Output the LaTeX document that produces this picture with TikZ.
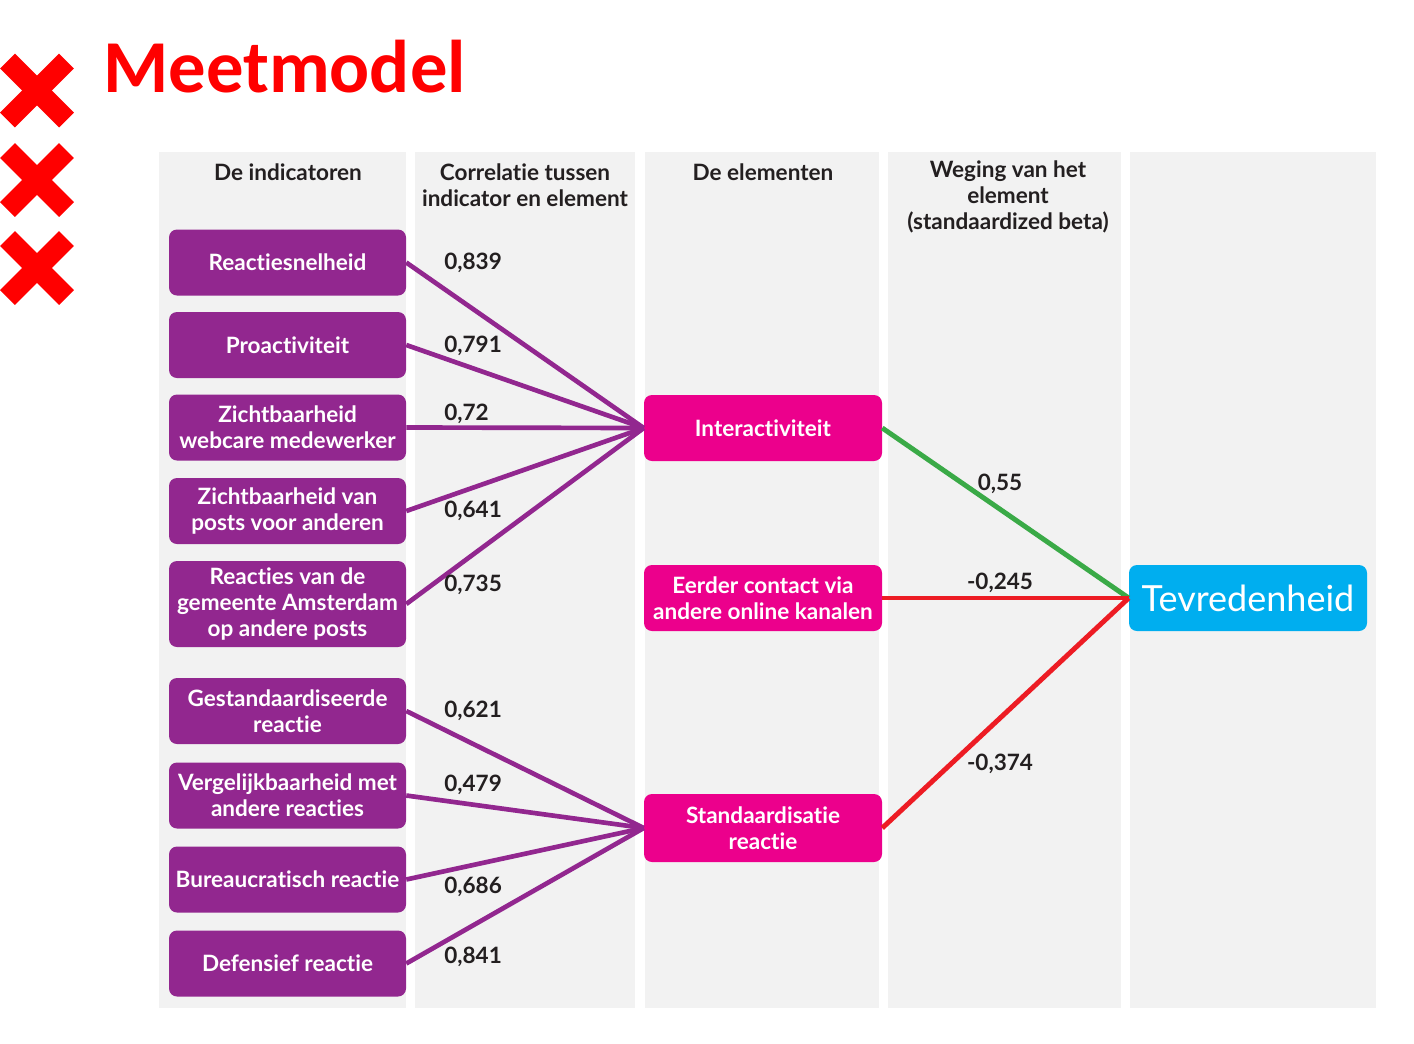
\documentclass[tikz,border=0pt]{standalone}
\usepackage{fontspec}
\setmainfont{Lato}[Ligatures=NoCommon]
\newfontfamily\titlefont{Carlito}
\definecolor{colbg}{HTML}{F2F2F2}
\definecolor{indpurple}{HTML}{92278F}
\definecolor{elpink}{HTML}{EC008C}
\definecolor{tevblue}{HTML}{00AEEF}
\definecolor{xred}{HTML}{FF0000}
\definecolor{lred}{HTML}{ED1C24}
\definecolor{lgreen}{HTML}{3AAA47}
\definecolor{darktext}{HTML}{231F20}
\tikzset{
  colbox/.style={fill=colbg, draw=none},
  xmark/.style={xred, line width=15.75pt, line cap=butt},
  basefont/.style={font=\bfseries\fontsize{16.9}{19.6}\selectfont},
  header/.style={basefont, text=darktext, align=center, inner sep=0pt},
  indbox/.style={basefont, fill=indpurple, text=white, rounded corners=6pt,
    minimum width=177.75pt, minimum height=49.5pt, align=center, inner sep=0pt},
  elbox/.style={basefont, fill=elpink, text=white, rounded corners=6pt,
    minimum width=178.5pt, minimum height=49.5pt, align=center, inner sep=0pt},
  tevbox/.style={font=\fontsize{27}{30}\selectfont, fill=tevblue, text=white, rounded corners=6pt,
    minimum width=178.5pt, minimum height=49.5pt, align=center, inner sep=0pt},
  numlabel/.style={basefont, text=darktext, inner sep=0pt},
  pline/.style={indpurple, line width=3.5pt},
  gline/.style={lgreen, line width=3.7pt},
  rline/.style={lred, line width=3.7pt}
}
\begin{document}
\begin{tikzpicture}[x=0.75pt,y=-0.75pt]
\useasboundingbox (0,0) rectangle (1414,1043);
% column backgrounds
\fill[colbox] (159,152) rectangle (406,1008);
\fill[colbox] (415,152) rectangle (635,1008);
\fill[colbox] (645,152) rectangle (879,1008);
\fill[colbox] (888,152) rectangle (1121,1008);
\fill[colbox] (1130,152) rectangle (1376,1008);
% crosses
\foreach \cy in {90.5,180,268}{
  \draw[xmark] (7.5,\cy-29.5) -- (66.5,\cy+29.5);
  \draw[xmark] (7.5,\cy+29.5) -- (66.5,\cy-29.5);
}
% title
\node[anchor=base west, inner sep=0pt, text=xred, font=\titlefont\bfseries\fontsize{56}{60}\selectfont] (title) at (103,92) {Meetmodel};
% headers
\node[header] (h1) at (288,172) {De indicatoren};
\node[header] (h2) at (525,185) {Correlatie tussen\\indicator en element};
\node[header] (h3) at (763,172) {De elementen};
\node[header] (h4) at (1008,197) {Weging van het\\element\\(standaardized beta)};
% indicators
\node[indbox] (i1) at (287.5,262.5) {Reactiesnelheid};
\node[indbox] (i2) at (287.5,345) {Proactiviteit};
\node[indbox] (i3) at (287.5,427.5) {Zichtbaarheid\\webcare medewerker};
\node[indbox] (i4) at (287.5,511) {Zichtbaarheid van\\posts voor anderen};
\node[indbox, minimum height=64.5pt] (i5) at (287.5,604) {Reacties van de\\gemeente Amsterdam\\op andere posts};
\node[indbox] (i6) at (287.5,711) {Gestandaardiseerde\\reactie};
\node[indbox] (i7) at (287.5,795.5) {Vergelijkbaarheid met\\andere reacties};
\node[indbox] (i8) at (287.5,879.5) {Bureaucratisch reactie};
\node[indbox] (i9) at (287.5,963.5) {Defensief reactie};
% elements
\node[elbox] (inter) at (763,428) {Interactiviteit};
\node[elbox] (eerder) at (763,598) {Eerder contact via\\andere online kanalen};
\node[elbox, minimum height=51pt] (stand) at (763,828) {Standaardisatie\\reactie};
\node[tevbox] (tev) at (1248,598) {Tevredenheid};
% connectors
\foreach \i in {i1,i2,i3,i4,i5}{ \draw[pline] (\i.east) -- (inter.west); }
\foreach \i in {i6,i7,i8,i9}{ \draw[pline] (\i.east) -- (stand.west); }
\draw[gline] (inter.east) -- (tev.west);
\draw[rline] (eerder.east) -- (tev.west);
\draw[rline] (stand.east) -- (tev.west);
% labels
\node[numlabel, anchor=west] (l1) at (444,263) {0,839};
\node[numlabel, anchor=west] (l2) at (444,346) {0,791};
\node[numlabel, anchor=west] (l3) at (444,414) {0,72};
\node[numlabel, anchor=west] (l4) at (444,511) {0,641};
\node[numlabel, anchor=west] (l5) at (444,585) {0,735};
\node[numlabel, anchor=west] (l6) at (444,711) {0,621};
\node[numlabel, anchor=west] (l7) at (444,785) {0,479};
\node[numlabel, anchor=west] (l8) at (444,887) {0,686};
\node[numlabel, anchor=west] (l9) at (444,957) {0,841};
\node[numlabel] (b1) at (1000,484) {0,55};
\node[numlabel] (b2) at (1000,583) {-0,245};
\node[numlabel] (b3) at (1000,764) {-0,374};
\end{tikzpicture}
\end{document}
